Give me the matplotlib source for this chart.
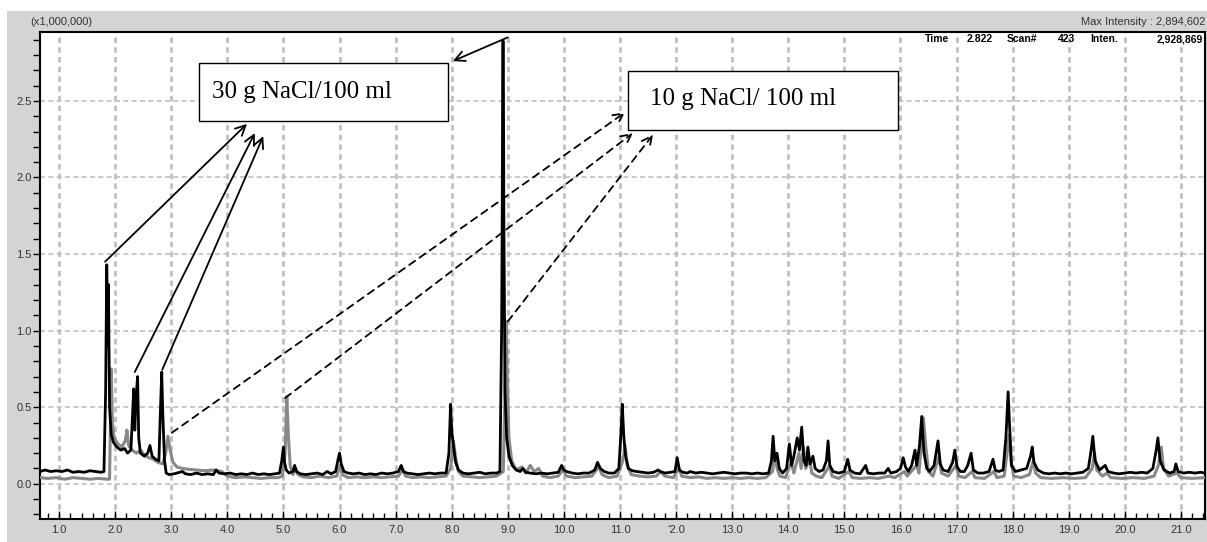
import matplotlib
matplotlib.use("Agg")
import matplotlib.pyplot as plt
from matplotlib.patches import Rectangle
from matplotlib.ticker import MultipleLocator, FixedLocator

plt.rcParams['font.family'] = ['Liberation Sans Narrow', 'Liberation Sans', 'DejaVu Sans']

# retention time (min) / intensity (x1,000,000)
black_t = [0.66, 0.75, 0.85, 0.95, 1.05, 1.15, 1.25, 1.35, 1.45, 1.55, 1.65, 1.75, 1.80, 1.83, 1.85, 1.87, 1.88, 1.90,
           1.93, 1.97, 2.03, 2.10, 2.17, 2.22, 2.28, 2.31, 2.33, 2.35, 2.37, 2.40, 2.42, 2.45, 2.52, 2.58, 2.62, 2.66,
           2.72, 2.78, 2.80, 2.83, 2.85, 2.88, 2.91, 2.96, 3.05, 3.10, 3.20, 3.25, 3.35, 3.45, 3.55, 3.65, 3.75, 3.80,
           3.85, 3.95, 4.05, 4.15, 4.25, 4.35, 4.45, 4.55, 4.65, 4.75, 4.85, 4.93, 4.97, 5.00, 5.02, 5.05, 5.10, 5.17,
           5.20, 5.23, 5.30, 5.40, 5.50, 5.60, 5.70, 5.78, 5.85, 5.93, 5.98, 6.00, 6.03, 6.08, 6.15, 6.25, 6.35, 6.45,
           6.55, 6.65, 6.75, 6.85, 6.95, 7.05, 7.10, 7.14, 7.20, 7.30, 7.40, 7.50, 7.60, 7.70, 7.80, 7.90, 7.95, 7.98,
           8.00, 8.03, 8.07, 8.12, 8.20, 8.30, 8.40, 8.50, 8.60, 8.70, 8.80, 8.86, 8.89, 8.90, 8.91, 8.92, 8.93, 8.95,
           8.98, 9.02, 9.08, 9.15, 9.22, 9.27, 9.32, 9.40, 9.50, 9.60, 9.70, 9.80, 9.90, 9.96, 10.00, 10.05, 10.15,
           10.25, 10.35, 10.45, 10.55, 10.60, 10.65, 10.72, 10.80, 10.90, 10.98, 11.02, 11.04, 11.07, 11.10, 11.15,
           11.22, 11.30, 11.40, 11.50, 11.60, 11.68, 11.72, 11.80, 11.90, 11.98, 12.02, 12.06, 12.12, 12.20, 12.25,
           12.35, 12.45, 12.55, 12.65, 12.75, 12.85, 12.95, 13.05, 13.15, 13.25, 13.35, 13.45, 13.55, 13.65, 13.70,
           13.73, 13.76, 13.80, 13.84, 13.90, 13.97, 14.02, 14.06, 14.10, 14.16, 14.20, 14.24, 14.28, 14.32, 14.35,
           14.39, 14.44, 14.48, 14.55, 14.62, 14.68, 14.71, 14.74, 14.80, 14.90, 15.00, 15.06, 15.10, 15.18, 15.28,
           15.38, 15.42, 15.52, 15.62, 15.72, 15.78, 15.83, 15.93, 16.00, 16.05, 16.09, 16.14, 16.20, 16.26, 16.29,
           16.34, 16.38, 16.42, 16.47, 16.52, 16.60, 16.67, 16.71, 16.76, 16.85, 16.93, 16.97, 17.01, 17.07, 17.14,
           17.20, 17.26, 17.30, 17.38, 17.48, 17.58, 17.65, 17.69, 17.75, 17.83, 17.88, 17.92, 17.95, 17.98, 18.05,
           18.15, 18.25, 18.32, 18.35, 18.38, 18.45, 18.55, 18.65, 18.75, 18.85, 18.95, 19.05, 19.15, 19.25, 19.35,
           19.40, 19.43, 19.47, 19.55, 19.65, 19.70, 19.80, 19.90, 20.00, 20.10, 20.20, 20.30, 20.40, 20.50, 20.56,
           20.59, 20.63, 20.70, 20.80, 20.88, 20.91, 20.95, 21.05, 21.15, 21.25, 21.35, 21.43]
black_i = [0.08, 0.09, 0.08, 0.085, 0.08, 0.09, 0.075, 0.08, 0.075, 0.085, 0.08, 0.075, 0.08, 0.6, 1.43, 0.9, 1.3, 0.5,
           0.32, 0.27, 0.24, 0.22, 0.23, 0.2, 0.22, 0.45, 0.62, 0.35, 0.55, 0.70, 0.3, 0.2, 0.18, 0.2, 0.25, 0.18,
           0.16, 0.15, 0.4, 0.73, 0.45, 0.15, 0.07, 0.06, 0.065, 0.07, 0.08, 0.065, 0.06, 0.07, 0.06, 0.065, 0.06, 0.09,
           0.07, 0.065, 0.07, 0.06, 0.065, 0.06, 0.07, 0.06, 0.065, 0.06, 0.065, 0.07, 0.15, 0.24, 0.14, 0.09, 0.07, 0.08,
           0.12, 0.08, 0.065, 0.06, 0.065, 0.07, 0.06, 0.08, 0.065, 0.08, 0.17, 0.20, 0.13, 0.08, 0.07, 0.065, 0.07, 0.06,
           0.065, 0.06, 0.07, 0.065, 0.07, 0.08, 0.12, 0.08, 0.07, 0.065, 0.06, 0.065, 0.07, 0.065, 0.07, 0.07, 0.2, 0.52,
           0.35, 0.25, 0.14, 0.09, 0.07, 0.065, 0.07, 0.075, 0.065, 0.07, 0.07, 0.08, 1.0, 1.72, 2.89, 2.89, 1.72, 0.6,
           0.3, 0.18, 0.12, 0.09, 0.08, 0.1, 0.075, 0.07, 0.065, 0.07, 0.065, 0.07, 0.075, 0.12, 0.09, 0.08, 0.07,
           0.065, 0.07, 0.07, 0.09, 0.14, 0.10, 0.08, 0.07, 0.07, 0.1, 0.35, 0.52, 0.3, 0.18, 0.1,
           0.085, 0.08, 0.075, 0.07, 0.075, 0.09, 0.08, 0.07, 0.075, 0.08, 0.17, 0.09, 0.075, 0.07, 0.08,
           0.07, 0.075, 0.07, 0.065, 0.07, 0.075, 0.07, 0.065, 0.07, 0.07, 0.065, 0.07, 0.065, 0.07, 0.15,
           0.31, 0.15, 0.2, 0.1, 0.07, 0.1, 0.26, 0.12, 0.18, 0.30, 0.22, 0.37, 0.15, 0.12, 0.24,
           0.13, 0.18, 0.1, 0.08, 0.09, 0.15, 0.28, 0.12, 0.08, 0.07, 0.08, 0.16, 0.09, 0.07, 0.065,
           0.12, 0.07, 0.065, 0.07, 0.07, 0.10, 0.07, 0.08, 0.10, 0.17, 0.11, 0.08, 0.12, 0.22, 0.12,
           0.25, 0.44, 0.2, 0.1, 0.08, 0.12, 0.28, 0.13, 0.09, 0.08, 0.14, 0.22, 0.11, 0.08, 0.08,
           0.12, 0.20, 0.09, 0.07, 0.07, 0.08, 0.16, 0.09, 0.08, 0.09, 0.3, 0.60, 0.35, 0.12, 0.08,
           0.09, 0.1, 0.18, 0.24, 0.14, 0.09, 0.07, 0.065, 0.07, 0.065, 0.07, 0.065, 0.07, 0.075, 0.1,
           0.22, 0.31, 0.15, 0.09, 0.12, 0.08, 0.07, 0.065, 0.07, 0.075, 0.07, 0.075, 0.07, 0.1, 0.22,
           0.30, 0.15, 0.09, 0.07, 0.08, 0.13, 0.08, 0.07, 0.075, 0.07, 0.075, 0.07]

gray_t = [0.66, 0.80, 0.95, 1.10, 1.25, 1.40, 1.55, 1.70, 1.85, 1.90, 1.92, 1.93, 1.95, 1.98, 2.05, 2.12, 2.18, 2.21,
          2.24, 2.30, 2.38, 2.45, 2.52, 2.60, 2.68, 2.76, 2.85, 2.90, 2.94, 2.98, 3.03, 3.10, 3.20, 3.30, 3.45, 3.60,
          3.75, 3.90, 4.00, 4.15, 4.30, 4.45, 4.60, 4.75, 4.90, 4.98, 5.03, 5.06, 5.09, 5.12, 5.17, 5.22, 5.26, 5.35,
          5.50, 5.65, 5.80, 5.95, 6.01, 6.05, 6.15, 6.30, 6.45, 6.60, 6.75, 6.90, 7.05, 7.12, 7.18, 7.30, 7.45, 7.60,
          7.75, 7.90, 7.98, 8.03, 8.07, 8.12, 8.20, 8.35, 8.50, 8.65, 8.80, 8.92, 8.95, 8.97, 8.99, 9.02, 9.07, 9.15,
          9.25, 9.32, 9.40, 9.47, 9.55, 9.62, 9.75, 9.90, 9.98, 10.05, 10.20, 10.35, 10.50, 10.62, 10.68, 10.80,
          10.95, 11.05, 11.09, 11.13, 11.20, 11.35, 11.50, 11.65, 11.72, 11.80, 11.95, 12.05, 12.10, 12.25, 12.40,
          12.55, 12.70, 12.85, 13.00, 13.15, 13.30, 13.45, 13.60, 13.72, 13.76, 13.80, 13.85, 13.95, 14.05, 14.10,
          14.19, 14.23, 14.27, 14.31, 14.38, 14.42, 14.50, 14.60, 14.74, 14.78, 14.90, 15.08, 15.14, 15.30, 15.45,
          15.60, 15.80, 15.90, 16.07, 16.12, 16.29, 16.33, 16.41, 16.45, 16.50, 16.58, 16.69, 16.73, 16.85, 16.99,
          17.04, 17.15, 17.28, 17.33, 17.50, 17.67, 17.72, 17.85, 17.94, 17.97, 18.02, 18.15, 18.30, 18.37, 18.41,
          18.50, 18.70, 18.90, 19.10, 19.30, 19.42, 19.46, 19.50, 19.60, 19.68, 19.75, 19.95, 20.15, 20.35, 20.52,
          20.60, 20.65, 20.69, 20.78, 20.93, 21.00, 21.20, 21.43]
gray_i = [0.04, 0.035, 0.04, 0.03, 0.04, 0.035, 0.03, 0.035, 0.03, 0.03, 0.5, 0.75, 0.4, 0.3, 0.26, 0.24, 0.28, 0.35,
          0.25, 0.22, 0.2, 0.22, 0.19, 0.17, 0.16, 0.14, 0.13, 0.2, 0.31, 0.22, 0.14, 0.11, 0.1, 0.095, 0.09, 0.085,
          0.09, 0.08, 0.05, 0.04, 0.045, 0.04, 0.035, 0.04, 0.04, 0.05, 0.2, 0.57, 0.3, 0.12, 0.06, 0.1, 0.06, 0.045,
          0.04, 0.05, 0.04, 0.05, 0.12, 0.06, 0.04, 0.045, 0.04, 0.045, 0.04, 0.045, 0.05, 0.09, 0.05, 0.04, 0.045, 0.04,
          0.045, 0.05, 0.1, 0.28, 0.17, 0.08, 0.05, 0.045, 0.04, 0.045, 0.05, 0.08, 0.6, 1.06, 0.7, 0.3, 0.15, 0.09,
          0.11, 0.07, 0.12, 0.08, 0.1, 0.05, 0.04, 0.05, 0.09, 0.05, 0.04, 0.045, 0.05, 0.11, 0.06, 0.04,
          0.05, 0.15, 0.25, 0.12, 0.06, 0.05, 0.045, 0.05, 0.08, 0.05, 0.04, 0.1, 0.05, 0.04, 0.045,
          0.035, 0.04, 0.035, 0.04, 0.035, 0.04, 0.035, 0.04, 0.08, 0.2, 0.1, 0.05, 0.04, 0.14, 0.07,
          0.2, 0.1, 0.24, 0.1, 0.16, 0.07, 0.05, 0.04, 0.12, 0.05, 0.035, 0.08, 0.04, 0.035, 0.04,
          0.035, 0.05, 0.04, 0.08, 0.05, 0.12, 0.07, 0.43, 0.25, 0.08, 0.05, 0.18, 0.07, 0.05, 0.12,
          0.05, 0.04, 0.08, 0.04, 0.035, 0.08, 0.04, 0.05, 0.32, 0.15, 0.05, 0.04, 0.06, 0.15, 0.07,
          0.04, 0.035, 0.04, 0.035, 0.04, 0.1, 0.2, 0.09, 0.05, 0.07, 0.04, 0.035, 0.04, 0.035, 0.05,
          0.12, 0.24, 0.1, 0.05, 0.07, 0.04, 0.035, 0.04]

x_ticks = list(range(1, 22))
x_labels = ["1.0", "2.0", "3.0", "4.0", "5.0", "6.0", "7.0", "8.0", "9.0", "10.0", "11.0", "\u20182.0", "13.0",
            "14.0", "15.0", "16.0", "17.0", "18.0", "19.0", "20.0", "21.0"]
y_ticks = [0.0, 0.5, 1.0, 1.5, 2.0, 2.5]

label_30 = "30 g NaCl/100 ml"
label_10 = "10 g NaCl/ 100 ml"
# arrows: (tail on peak, head near box)
arrows_30 = [((1.82, 1.45), (4.35, 2.35)), ((2.35, 0.73), (4.49, 2.29)), ((2.84, 0.745), (4.64, 2.27)),
             ((9.00, 2.915), (8.02, 2.76))]
arrows_10 = [((3.01, 0.333), (11.09, 2.425)), ((5.03, 0.56), (11.23, 2.29)), ((9.00, 1.06), (11.59, 2.28))]

W, H = 1207, 542
fig = plt.figure(figsize=(W / 100, H / 100), dpi=100)
fig.patch.set_facecolor("white")
fig.patches.append(Rectangle((7 / W, 0), 1 - 7 / W, 1 - 11 / H, transform=fig.transFigure,
                             facecolor="#d4d4d4", edgecolor="none", zorder=-5))

ax = fig.add_axes([40 / W, (H - 519) / H, (1205 - 40) / W, (519 - 32) / H])
ax.set_zorder(2)
ax.set_facecolor("white")
ax.set_xlim(0.66, 21.43)
ax.set_ylim(-0.23, 2.95)

ax.plot(gray_t, gray_i, color="#888888", lw=2.2, zorder=3)
ax.plot(black_t, black_i, color="black", lw=2.0, zorder=4)

ax.xaxis.set_major_locator(FixedLocator(x_ticks))
ax.set_xticklabels(x_labels)
ax.xaxis.set_minor_locator(MultipleLocator(0.2))
ax.yaxis.set_major_locator(FixedLocator(y_ticks))
ax.set_yticklabels([f"{v:.1f}" for v in y_ticks])
ax.yaxis.set_minor_locator(MultipleLocator(0.1))
ax.tick_params(axis="x", which="both", direction="in", top=False, colors="black", labelcolor="#333333",
               labelsize=8, pad=4)
ax.tick_params(axis="x", which="major", length=6, width=1)
ax.tick_params(axis="x", which="minor", length=4, width=1)
ax.tick_params(axis="y", which="both", direction="out", length=5, width=1, colors="black",
               labelcolor="#333333", labelsize=8, pad=1)

ax.grid(True, axis="x", which="major", color="#c0c0c0", linestyle=(0, (2, 1.5)), lw=2)
ax.grid(True, axis="y", which="major", color="#c0c0c0", linestyle=(0, (3, 2)), lw=1.2)
ax.set_axisbelow(True)
for s in ax.spines.values():
    s.set_color("black")
    s.set_linewidth(1.5)

# annotation boxes
ax.add_patch(Rectangle((3.50, 2.366), 7.93 - 3.50, 2.745 - 2.366, facecolor="white", edgecolor="black",
                       lw=1, zorder=5))
ax.text(3.73, 2.555, label_30, fontsize=18, family="Liberation Serif", va="center", ha="left", zorder=6)
ax.add_patch(Rectangle((11.14, 2.307), 15.96 - 11.14, 2.693 - 2.307, facecolor="white", edgecolor="black",
                       lw=1, zorder=5))
ax.text(11.53, 2.51, label_10, fontsize=18, family="Liberation Serif", va="center", ha="left", zorder=6)

for tail, head in arrows_30:
    ax.annotate("", xy=head, xytext=tail,
                arrowprops=dict(arrowstyle="->", color="black", lw=1.3, mutation_scale=18,
                                shrinkA=0, shrinkB=0), zorder=7)
for tail, head in arrows_10:
    ax.annotate("", xy=head, xytext=tail,
                arrowprops=dict(arrowstyle="->", color="black", lw=1.3, mutation_scale=18,
                                linestyle=(0, (4, 3)), shrinkA=0, shrinkB=0), zorder=7)

# header texts
def ftext(x, y, s, **kw):
    fig.text(x / W, 1 - y / H, s, **kw)

ftext(30, 22, "(x1,000,000)", fontsize=8, color="#333333", va="center", ha="left")
ftext(1205, 22, "Max Intensity : 2,894,602", fontsize=8, color="#333333", va="center", ha="right")
for x, s in [(925, "Time"), (967, "2.822"), (1007, "Scan#"), (1058, "423"), (1090, "Inten.")]:
    ftext(x, 39, s, fontsize=7.5, weight="bold", color="black", va="center", ha="left", zorder=10)
ftext(1203, 39, "2,928,869", fontsize=7.5, weight="bold", color="black", va="center", ha="right", zorder=10)

fig.savefig("out.png", dpi=100)
